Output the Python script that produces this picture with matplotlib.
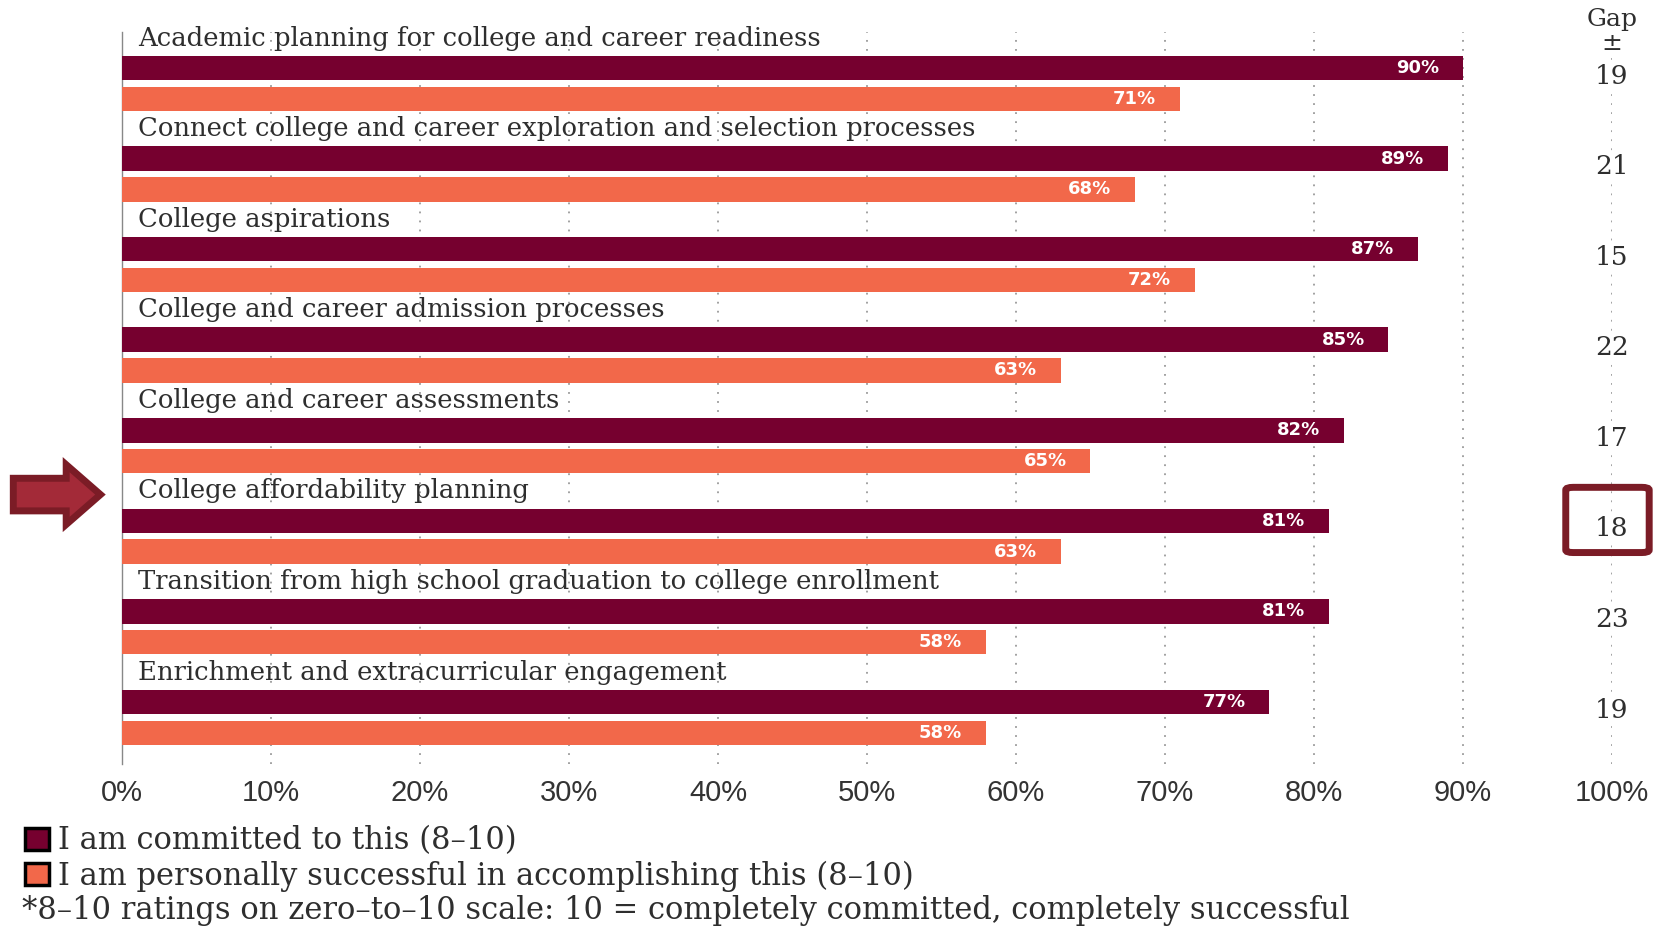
import matplotlib
matplotlib.use("Agg")
import matplotlib.pyplot as plt
from matplotlib.patches import FancyArrow, FancyBboxPatch, Rectangle
import numpy as np

categories = [
    "Academic planning for college and career readiness",
    "Connect college and career exploration and selection processes",
    "College aspirations",
    "College and career admission processes",
    "College and career assessments",
    "College affordability planning",
    "Transition from high school graduation to college enrollment",
    "Enrichment and extracurricular engagement",
]
committed = [90, 89, 87, 85, 82, 81, 81, 77]
successful = [71, 68, 72, 63, 65, 63, 58, 58]
gaps = [19, 21, 15, 22, 17, 18, 23, 19]
highlight = 5  # College affordability planning
xticks = list(range(0, 101, 10))
legend_labels = ["I am committed to this (8\u201310)",
                 "I am personally successful in accomplishing this (8\u201310)"]
footnote = "*8\u201310 ratings on zero\u2013to\u201310 scale: 10 = completely committed, completely successful"

DARK = "#76002F"
ORANGE = "#F2684A"
MAROON = "#7B1C26"
TXT = "#2E2E2E"
SERIF = "DejaVu Serif"

fig = plt.figure(figsize=(16.63, 9.26), dpi=100)
ax = fig.add_axes([0.0734, 0.1754, 0.8959, 0.7903])

y = np.arange(len(categories))
bar_h = 0.27
off = 0.34

ax.barh(y, committed, height=bar_h, color=DARK, zorder=3)
ax.barh(y + off, successful, height=bar_h, color=ORANGE, zorder=3)

for i in range(len(categories)):
    ax.text(1.05, y[i] - 0.33, categories[i], fontsize=18.6, family=SERIF,
            color=TXT, va="center", ha="left", zorder=4)
    ax.text(committed[i] - 1.6, y[i], f"{committed[i]}%", fontsize=13,
            family="DejaVu Sans", fontweight="bold",
            color="white", va="center", ha="right", zorder=4)
    ax.text(successful[i] - 1.6, y[i] + off, f"{successful[i]}%", fontsize=13,
            family="DejaVu Sans", fontweight="bold",
            color="white", va="center", ha="right", zorder=4)
    ax.text(100, y[i] + 0.09, str(gaps[i]), fontsize=19, family=SERIF,
            color=TXT, va="center", ha="center", zorder=4, clip_on=False,
            bbox=dict(facecolor="white", edgecolor="none", pad=1))

ax.text(100, -0.27, "\u00b1", fontsize=18, family=SERIF, color=TXT,
        ha="center", va="center", clip_on=False, zorder=4,
        bbox=dict(facecolor="white", edgecolor="none", pad=1))
ax.text(100, -0.53, "Gap", fontsize=18, family=SERIF, color=TXT,
        ha="center", va="center", clip_on=False)

# highlight box around the gap value
box = FancyBboxPatch((96.9, highlight - 0.37), 5.6, 0.72,
                     boxstyle="round,pad=0,rounding_size=0.5",
                     facecolor="none", edgecolor=MAROON, linewidth=5,
                     clip_on=False, zorder=5, mutation_aspect=0.06)
ax.add_patch(box)

# arrow pointing at the highlighted category
arrow = FancyArrow(-7.3, highlight - 0.29, 5.85, 0, width=0.36,
                   head_width=0.66, head_length=2.3,
                   length_includes_head=True, facecolor="#A32A38",
                   edgecolor=MAROON, linewidth=5, clip_on=False, zorder=5)
ax.add_patch(arrow)

ax.set_xlim(0, 100)
ax.set_ylim(7.68, -0.40)
ax.set_xticks(xticks)
ax.set_xticklabels([f"{t}%" for t in xticks], fontsize=21,
                   family="Liberation Sans", color="#333333")
ax.tick_params(axis="x", length=0, pad=11)
ax.set_yticks([])
ax.grid(axis="x", color="#9A9A9A", linestyle=(0, (1, 4)), linewidth=1.3, zorder=0)
for s in ["top", "right", "bottom"]:
    ax.spines[s].set_visible(False)
ax.spines["left"].set_color("#888888")
ax.spines["left"].set_linewidth(1)

# legend + footnote
W, H = 1663, 926
for k, (lab, col) in enumerate(zip(legend_labels, [DARK, ORANGE])):
    cy = 839 + 35 * k
    fig.patches.append(Rectangle((25 / W, 1 - (cy + 11) / H), 24 / W, 22 / H,
                                 transform=fig.transFigure, facecolor=col,
                                 edgecolor="black", linewidth=2.5))
    fig.text(58 / W, 1 - (cy + 2) / H, lab, fontsize=22, family=SERIF, color=TXT,
             va="center", ha="left")
fig.text(22 / W, 1 - 911 / H, footnote, fontsize=22, family=SERIF, color=TXT,
         va="center", ha="left")

fig.savefig("out.png", dpi=100, facecolor="white")
